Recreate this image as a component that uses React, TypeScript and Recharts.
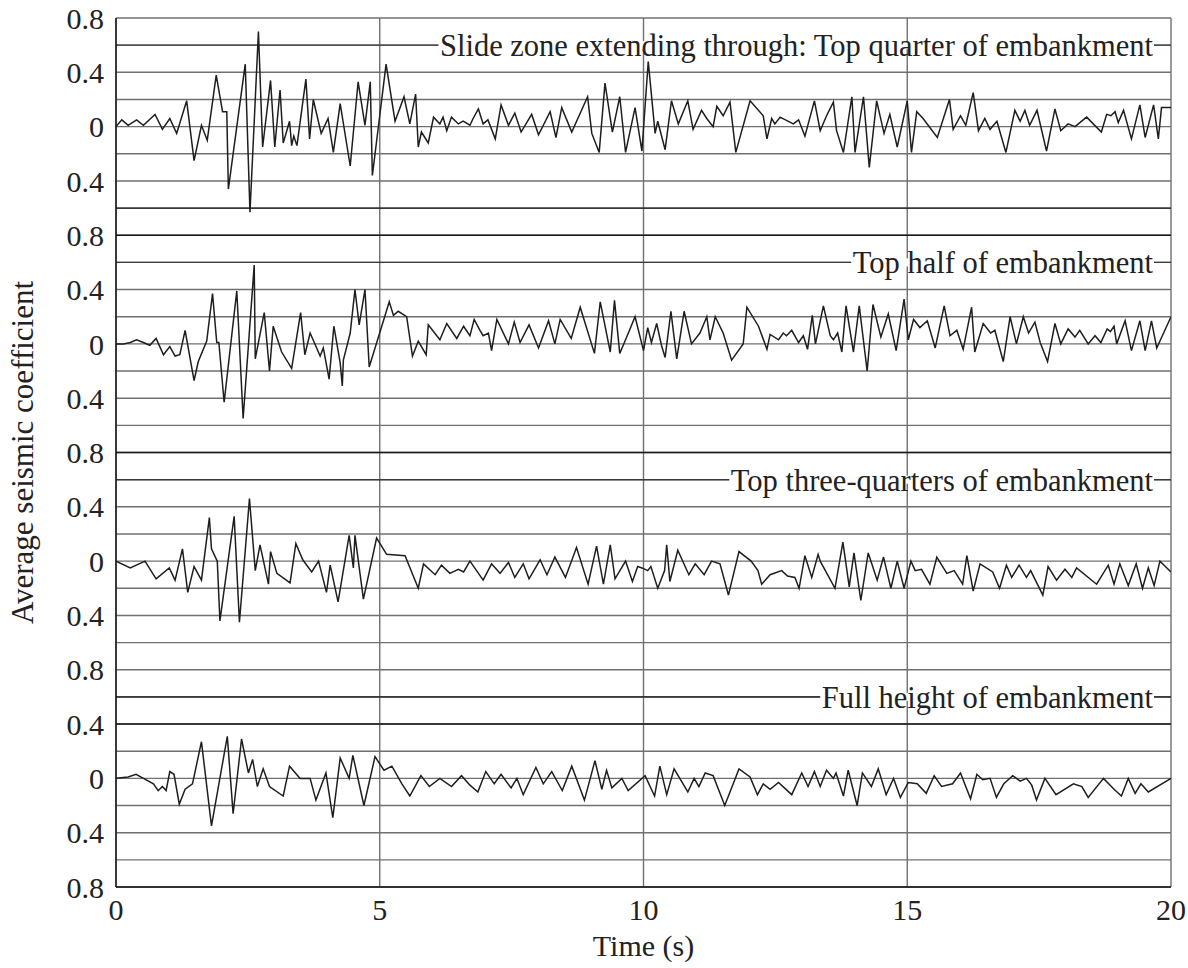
import { useLayoutEffect, useRef, useState } from "react";
import {
  LineChart,
  Line,
  XAxis,
  YAxis,
  CartesianGrid,
  ReferenceLine,
} from "recharts";

// [time (s), average seismic coefficient]
const topQuarter: [number, number][] = [
  [0, 0], [0.11, 0.05], [0.23, 0.01], [0.39, 0.05], [0.52, 0.01], [0.74, 0.09], [0.88, -0.02], [1.02, 0.06],
  [1.15, -0.05], [1.34, 0.19], [1.48, -0.25], [1.62, 0.01], [1.73, -0.1], [1.9, 0.38], [2.02, 0.11], [2.1, 0.11],
  [2.13, -0.46], [2.45, 0.46], [2.54, -0.63], [2.7, 0.7], [2.78, -0.15], [2.93, 0.34], [3.01, -0.15], [3.11, 0.27],
  [3.17, -0.12], [3.29, 0.04], [3.33, -0.14], [3.37, -0.07], [3.43, -0.14], [3.6, 0.35], [3.67, -0.09], [3.74, 0.2],
  [3.89, -0.05], [4.02, 0.06], [4.12, -0.19], [4.25, 0.17], [4.44, -0.29], [4.59, 0.33], [4.72, 0.01], [4.82, 0.33],
  [4.86, -0.36], [5.12, 0.46], [5.29, 0.04], [5.46, 0.22], [5.57, 0.02], [5.68, 0.24], [5.73, -0.15], [5.79, -0.04],
  [5.92, -0.12], [6.02, 0.07], [6.14, 0.02], [6.2, 0.07], [6.27, -0.03], [6.36, 0.07], [6.49, 0.02], [6.58, 0.04],
  [6.71, 0.01], [6.77, 0.06], [6.87, 0.13], [6.96, 0.02], [7.05, 0.05], [7.19, -0.09], [7.3, 0.16], [7.44, 0.01],
  [7.56, 0.1], [7.68, -0.04], [7.88, 0.09], [8.01, -0.06], [8.23, 0.11], [8.34, -0.08], [8.45, 0.14], [8.64, -0.04],
  [8.94, 0.22], [9.02, -0.05], [9.16, -0.19], [9.27, 0.32], [9.41, -0.04], [9.55, 0.22], [9.66, -0.19], [9.84, 0.14],
  [9.97, -0.18], [10.09, 0.48], [10.22, -0.05], [10.27, 0.04], [10.41, -0.17], [10.53, 0.19], [10.66, 0.02], [10.84, 0.19],
  [10.94, -0.02], [11.1, 0.12], [11.2, 0.06], [11.32, 0], [11.39, 0.15], [11.51, 0.08], [11.64, 0.18], [11.75, -0.19],
  [12.02, 0.19], [12.27, 0.08], [12.34, -0.09], [12.43, 0.06], [12.49, 0.02], [12.59, 0.07], [12.84, 0.02], [12.94, 0.05],
  [13.06, -0.07], [13.24, 0.19], [13.35, -0.03], [13.47, 0.08], [13.6, 0.18], [13.66, -0.03], [13.79, -0.19], [13.95, 0.22],
  [14.01, -0.19], [14.17, 0.22], [14.28, -0.3], [14.42, 0.19], [14.56, -0.05], [14.67, 0.09], [14.81, -0.15], [15.0, 0.19],
  [15.08, -0.19], [15.18, 0.11], [15.3, 0.06], [15.57, -0.08], [15.8, 0.2], [15.87, -0.02], [16.01, 0.08], [16.11, 0.01],
  [16.25, 0.25], [16.35, -0.03], [16.47, 0.06], [16.57, -0.02], [16.7, 0.04], [16.87, -0.19], [17.04, 0.12], [17.14, 0.04],
  [17.23, 0.12], [17.32, 0.01], [17.46, 0.12], [17.64, -0.18], [17.8, 0.13], [17.91, -0.03], [18.05, 0.02], [18.18, 0],
  [18.4, 0.07], [18.68, -0.04], [18.78, 0.09], [18.86, 0.08], [18.94, 0.11], [19.0, 0.03], [19.1, 0.12], [19.25, -0.09],
  [19.41, 0.16], [19.51, -0.08], [19.67, 0.16], [19.76, -0.09], [19.82, 0.14], [20, 0.14],
];

const topHalf: [number, number][] = [
  [0, 0], [0.14, 0], [0.27, 0.01], [0.39, 0.03], [0.52, 0.01], [0.64, -0.01], [0.76, 0.04], [0.9, -0.08],
  [1.02, -0.02], [1.12, -0.09], [1.21, -0.08], [1.31, 0.1], [1.48, -0.27], [1.56, -0.13], [1.72, 0.02], [1.83, 0.37],
  [1.91, 0.01], [1.95, 0.01], [2.05, -0.43], [2.29, 0.39], [2.41, -0.55], [2.62, 0.58], [2.64, -0.11], [2.81, 0.23],
  [2.91, -0.2], [2.98, 0.13], [3.14, -0.06], [3.33, -0.18], [3.5, 0.23], [3.58, -0.08], [3.68, 0.08], [3.87, -0.09],
  [3.93, -0.03], [4.04, -0.26], [4.13, 0.13], [4.25, -0.14], [4.29, -0.31], [4.31, -0.12], [4.44, 0.08], [4.53, 0.4],
  [4.61, 0.14], [4.72, 0.4], [4.8, -0.17], [5.07, 0.17], [5.18, 0.31], [5.26, 0.21], [5.35, 0.24], [5.51, 0.2],
  [5.62, -0.09], [5.73, 0.02], [5.88, -0.08], [5.92, 0.14], [6.14, 0.03], [6.27, 0.15], [6.46, 0.04], [6.59, 0.13],
  [6.71, 0.06], [6.79, 0.18], [6.9, 0.1], [6.96, 0.06], [7.06, 0.08], [7.12, -0.05], [7.22, 0.18], [7.44, 0],
  [7.55, 0.16], [7.66, 0.01], [7.83, 0.14], [8.01, -0.03], [8.2, 0.17], [8.32, 0], [8.42, 0.18], [8.63, 0.04],
  [8.8, 0.27], [9.07, -0.07], [9.18, 0.31], [9.37, -0.06], [9.45, 0.32], [9.55, -0.07], [9.66, 0.03], [9.84, 0.2],
  [10.0, -0.05], [10.08, 0.12], [10.15, 0.01], [10.25, 0.15], [10.34, -0.01], [10.41, -0.1], [10.52, 0.24], [10.63, -0.11],
  [10.77, 0.24], [10.91, 0], [11.07, 0.08], [11.2, 0.2], [11.26, 0.03], [11.36, 0.2], [11.51, 0.08], [11.67, -0.12],
  [11.89, 0], [11.96, 0.27], [12.18, 0.13], [12.34, -0.04], [12.4, 0.07], [12.56, 0.03], [12.65, 0.08], [12.71, 0.06],
  [12.81, 0.1], [12.94, 0.01], [13.03, 0.06], [13.11, -0.04], [13.2, 0.21], [13.26, 0], [13.41, 0.28], [13.54, 0.06],
  [13.6, 0.03], [13.68, 0.08], [13.76, -0.06], [13.84, 0.28], [13.98, -0.06], [14.09, 0.28], [14.24, -0.2], [14.35, 0.29],
  [14.5, 0.05], [14.64, 0.22], [14.79, -0.05], [14.94, 0.33], [15.02, 0.03], [15.12, 0.18], [15.24, 0.12], [15.38, 0.17],
  [15.53, -0.03], [15.7, 0.28], [15.81, 0.06], [15.94, 0.1], [16.06, -0.04], [16.22, 0.27], [16.28, -0.06], [16.44, 0.15],
  [16.58, 0.08], [16.66, 0.1], [16.82, -0.13], [16.95, 0.2], [17.07, 0], [17.2, 0.2], [17.3, 0.08], [17.42, 0.16],
  [17.52, 0.01], [17.66, -0.13], [17.8, 0.15], [17.91, 0], [18.05, 0.11], [18.18, 0.05], [18.27, 0.1], [18.43, 0],
  [18.56, 0.06], [18.67, 0.01], [18.79, 0.11], [18.85, 0.09], [18.92, 0.13], [18.97, 0], [19.13, 0.17], [19.25, -0.05],
  [19.41, 0.17], [19.51, -0.05], [19.63, 0.17], [19.73, -0.03], [20, 0.2],
];

const topThreeQuarters: [number, number][] = [
  [0, 0], [0.27, -0.05], [0.55, 0], [0.76, -0.13], [1.01, -0.05], [1.12, -0.14], [1.26, 0.09], [1.36, -0.23],
  [1.48, -0.04], [1.62, -0.14], [1.77, 0.32], [1.81, 0.09], [1.92, 0], [1.97, -0.44], [2.24, 0.33], [2.34, -0.45],
  [2.53, 0.46], [2.64, -0.07], [2.73, 0.12], [2.89, -0.17], [2.93, 0.07], [3.05, -0.09], [3.3, -0.16], [3.41, 0.13],
  [3.54, 0.01], [3.71, -0.08], [3.84, 0], [3.99, -0.23], [4.06, -0.03], [4.21, -0.3], [4.42, 0.19], [4.5, -0.05],
  [4.53, 0.19], [4.69, -0.28], [4.94, 0.17], [5.13, 0.05], [5.48, 0.04], [5.73, -0.2], [5.83, -0.02], [6.05, -0.1],
  [6.17, -0.03], [6.33, -0.09], [6.49, -0.06], [6.59, -0.08], [6.71, 0], [6.96, -0.14], [7.12, -0.02], [7.28, -0.09],
  [7.44, -0.01], [7.56, -0.12], [7.72, -0.02], [7.83, -0.13], [8.04, 0.01], [8.17, -0.1], [8.32, 0.03], [8.52, -0.12],
  [8.73, 0.1], [8.95, -0.17], [9.11, 0.11], [9.24, -0.17], [9.37, 0.12], [9.46, -0.13], [9.66, 0], [9.79, -0.15],
  [9.89, -0.04], [9.97, -0.05], [10.08, -0.07], [10.14, -0.04], [10.27, -0.2], [10.4, -0.07], [10.44, 0.12], [10.5, -0.15],
  [10.65, 0.08], [10.86, -0.1], [10.98, -0.02], [11.15, -0.1], [11.29, 0], [11.45, -0.02], [11.61, -0.25], [11.81, 0.07],
  [12.04, 0], [12.17, -0.07], [12.24, -0.17], [12.4, -0.1], [12.62, -0.07], [12.73, -0.11], [12.87, -0.12], [12.95, -0.2],
  [13.06, 0.04], [13.19, -0.12], [13.31, 0.05], [13.35, 0], [13.63, -0.2], [13.78, 0.14], [13.9, -0.19], [13.99, 0.06],
  [14.12, -0.29], [14.26, 0.06], [14.43, -0.14], [14.55, 0.03], [14.69, -0.2], [14.81, 0], [14.94, -0.2], [15.07, 0],
  [15.15, -0.07], [15.27, -0.06], [15.43, -0.17], [15.56, 0.03], [15.75, -0.09], [15.89, -0.07], [16.05, -0.17], [16.13, 0.04],
  [16.25, -0.22], [16.38, -0.02], [16.62, -0.08], [16.75, -0.2], [16.88, -0.03], [16.98, -0.12], [17.12, -0.03], [17.26, -0.12],
  [17.34, -0.07], [17.57, -0.25], [17.67, -0.04], [17.83, -0.14], [17.99, -0.06], [18.12, -0.12], [18.21, -0.05], [18.59, -0.17],
  [18.81, -0.03], [18.92, -0.17], [19.03, -0.02], [19.19, -0.18], [19.34, -0.02], [19.46, -0.2], [19.57, -0.05], [19.68, -0.18],
  [19.79, 0], [20, -0.08],
];

const fullHeight: [number, number][] = [
  [0, 0], [0.23, 0.01], [0.38, 0.03], [0.52, 0], [0.71, -0.04], [0.8, -0.09], [0.88, -0.06], [0.95, -0.09],
  [1.02, 0.05], [1.1, 0.03], [1.2, -0.19], [1.31, -0.08], [1.45, -0.04], [1.62, 0.27], [1.81, -0.35], [2.11, 0.31],
  [2.22, -0.26], [2.38, 0.29], [2.51, 0.04], [2.59, 0.14], [2.68, -0.06], [2.79, 0.07], [2.91, -0.06], [3.17, -0.13],
  [3.29, 0.09], [3.49, 0], [3.68, 0], [3.79, -0.16], [3.98, 0.04], [4.11, -0.29], [4.25, 0.15], [4.42, 0],
  [4.49, 0.17], [4.7, -0.2], [4.91, 0.16], [5.08, 0.06], [5.23, 0.09], [5.42, -0.04], [5.57, -0.13], [5.78, 0.02],
  [5.94, -0.06], [6.14, 0], [6.36, -0.06], [6.55, 0.02], [6.71, -0.05], [6.86, -0.1], [7.01, 0.05], [7.17, -0.04],
  [7.3, 0.03], [7.49, -0.07], [7.6, 0], [7.72, -0.12], [7.96, 0.08], [8.1, -0.04], [8.26, 0.05], [8.46, -0.09],
  [8.64, 0.09], [8.88, -0.16], [9.08, 0.13], [9.21, -0.08], [9.3, 0.06], [9.4, -0.07], [9.59, 0], [9.71, -0.09],
  [10.03, 0.02], [10.21, -0.13], [10.31, 0.09], [10.44, -0.12], [10.58, 0.07], [10.84, -0.1], [10.96, 0], [11.05, -0.06],
  [11.17, 0.04], [11.32, 0.02], [11.54, -0.2], [11.81, 0.07], [12.02, 0.01], [12.16, -0.12], [12.27, -0.04], [12.4, -0.08],
  [12.56, -0.03], [12.81, -0.12], [13.0, 0.04], [13.12, -0.06], [13.24, 0.05], [13.35, -0.06], [13.47, 0.06], [13.6, 0],
  [13.65, 0.04], [13.79, -0.13], [13.88, 0.06], [14.05, -0.2], [14.15, 0.04], [14.32, -0.06], [14.45, 0.07], [14.6, -0.12],
  [14.74, 0], [14.87, -0.14], [15.02, -0.03], [15.19, -0.04], [15.36, -0.11], [15.51, 0.02], [15.65, -0.06], [15.86, -0.04],
  [16.01, 0.04], [16.2, -0.15], [16.32, 0.03], [16.43, -0.01], [16.57, 0], [16.69, -0.14], [16.83, -0.04], [17.0, 0.02],
  [17.14, -0.02], [17.26, 0], [17.36, -0.05], [17.45, -0.16], [17.61, 0], [17.82, -0.12], [18.15, -0.04], [18.31, -0.06],
  [18.43, -0.14], [18.72, 0], [18.92, -0.08], [19.06, -0.13], [19.19, 0], [19.32, -0.11], [19.43, -0.04], [19.57, -0.1],
  [20, 0],
];

const PANEL_TITLES = [
  "Slide zone extending through: Top quarter of embankment",
  "Top half of embankment",
  "Top three-quarters of embankment",
  "Full height of embankment",
];

// each panel is stacked on one shared axis: its zero sits at this offset
const PANEL_OFFSETS = [5.6, 4.0, 2.4, 0.8];
const Y_TICK_LABELS = ["0.8", "0.4", "0", "0.4"];
const X_TICKS = [0, 5, 10, 15, 20];
const DARK_LINES = [5.0, 4.8, 3.2, 3.0, 1.4, 1.2];

const FONT = "'Liberation Serif', 'Times New Roman', serif";
const TEXT = "#222";
const GRID = "#707070";

const panels = [topQuarter, topHalf, topThreeQuarters, fullHeight].map((pts, i) => ({
  title: PANEL_TITLES[i],
  offset: PANEL_OFFSETS[i],
  data: pts.map(([t, v]) => ({ t, y: PANEL_OFFSETS[i] + v })),
}));

const yTicks = Array.from({ length: 33 }, (_, i) => Math.round(i * 2) / 10);

function yTickFormatter(v: number) {
  const idx = Math.round(v / 0.2);
  if (idx % 2 === 1) return "";
  return Y_TICK_LABELS[(idx / 2) % 4];
}

function PanelLabel(props: any) {
  const { viewBox, text } = props;
  const ref = useRef<SVGTextElement>(null);
  const [w, setW] = useState(0);
  useLayoutEffect(() => {
    if (ref.current) setW(ref.current.getBBox().width);
  }, [text]);
  if (!viewBox) return null;
  const right = viewBox.x + viewBox.width - 18;
  return (
    <g>
      <rect x={right - w - 1} y={viewBox.y - 4} width={w + 2} height={8} fill="#fff" />
      <text
        ref={ref}
        x={right}
        y={viewBox.y}
        dy="0.36em"
        textAnchor="end"
        fontFamily={FONT}
        fontSize={30.5}
        fill={TEXT}
      >
        {text}
      </text>
    </g>
  );
}

function YTitle(props: any) {
  const { viewBox } = props;
  const cx = 22;
  const cy = viewBox.y + viewBox.height / 2;
  return (
    <text
      x={cx}
      y={cy}
      transform={`rotate(-90 ${cx} ${cy})`}
      textAnchor="middle"
      dominantBaseline="central"
      fontFamily={FONT}
      fontSize={31}
      fill={TEXT}
    >
      Average seismic coefficient
    </text>
  );
}

function XTitle(props: any) {
  const { viewBox } = props;
  return (
    <text
      x={viewBox.x + viewBox.width / 2}
      y={viewBox.y + 58}
      textAnchor="middle"
      dominantBaseline="central"
      fontFamily={FONT}
      fontSize={30}
      fill={TEXT}
    >
      Time (s)
    </text>
  );
}

export default function App() {
  return (
    <div style={{ position: "absolute", left: 0, top: 0, fontFamily: FONT }}>
      <LineChart
        width={1188}
        height={968}
        margin={{ top: 18, right: 17, bottom: 0, left: 0 }}
        style={{ fontFamily: FONT }}
      >
        <CartesianGrid stroke={GRID} strokeWidth={1.4} />
        <XAxis
          type="number"
          dataKey="t"
          domain={[0, 20]}
          ticks={X_TICKS}
          allowDataOverflow
          height={81}
          axisLine={{ stroke: "#111", strokeWidth: 1.4 }}
          tickLine={false}
          tickMargin={6}
          tick={{ fontFamily: FONT, fontSize: 30, fill: TEXT }}
          label={<XTitle />}
        />
        <YAxis
          type="number"
          domain={[0, 6.4]}
          ticks={yTicks}
          interval={0}
          allowDataOverflow
          width={116}
          axisLine={{ stroke: "#111", strokeWidth: 1.4 }}
          tickLine={false}
          tickMargin={6}
          tickFormatter={yTickFormatter}
          tick={{ fontFamily: FONT, fontSize: 30, fill: TEXT }}
          label={<YTitle />}
        />
        {DARK_LINES.map((y) => (
          <ReferenceLine key={y} y={y} stroke="#1a1a1a" strokeWidth={1.4} />
        ))}
        {panels.map((p) => (
          <ReferenceLine
            key={p.title}
            y={p.offset + 0.6}
            stroke="#3a3a3a"
            strokeWidth={1.4}
            label={<PanelLabel text={p.title} />}
          />
        ))}
        {panels.map((p) => (
          <Line
            key={p.title}
            data={p.data}
            dataKey="y"
            type="linear"
            stroke="#1e1e1e"
            strokeWidth={1.5}
            dot={false}
            activeDot={false}
            isAnimationActive={false}
          />
        ))}
      </LineChart>
    </div>
  );
}
